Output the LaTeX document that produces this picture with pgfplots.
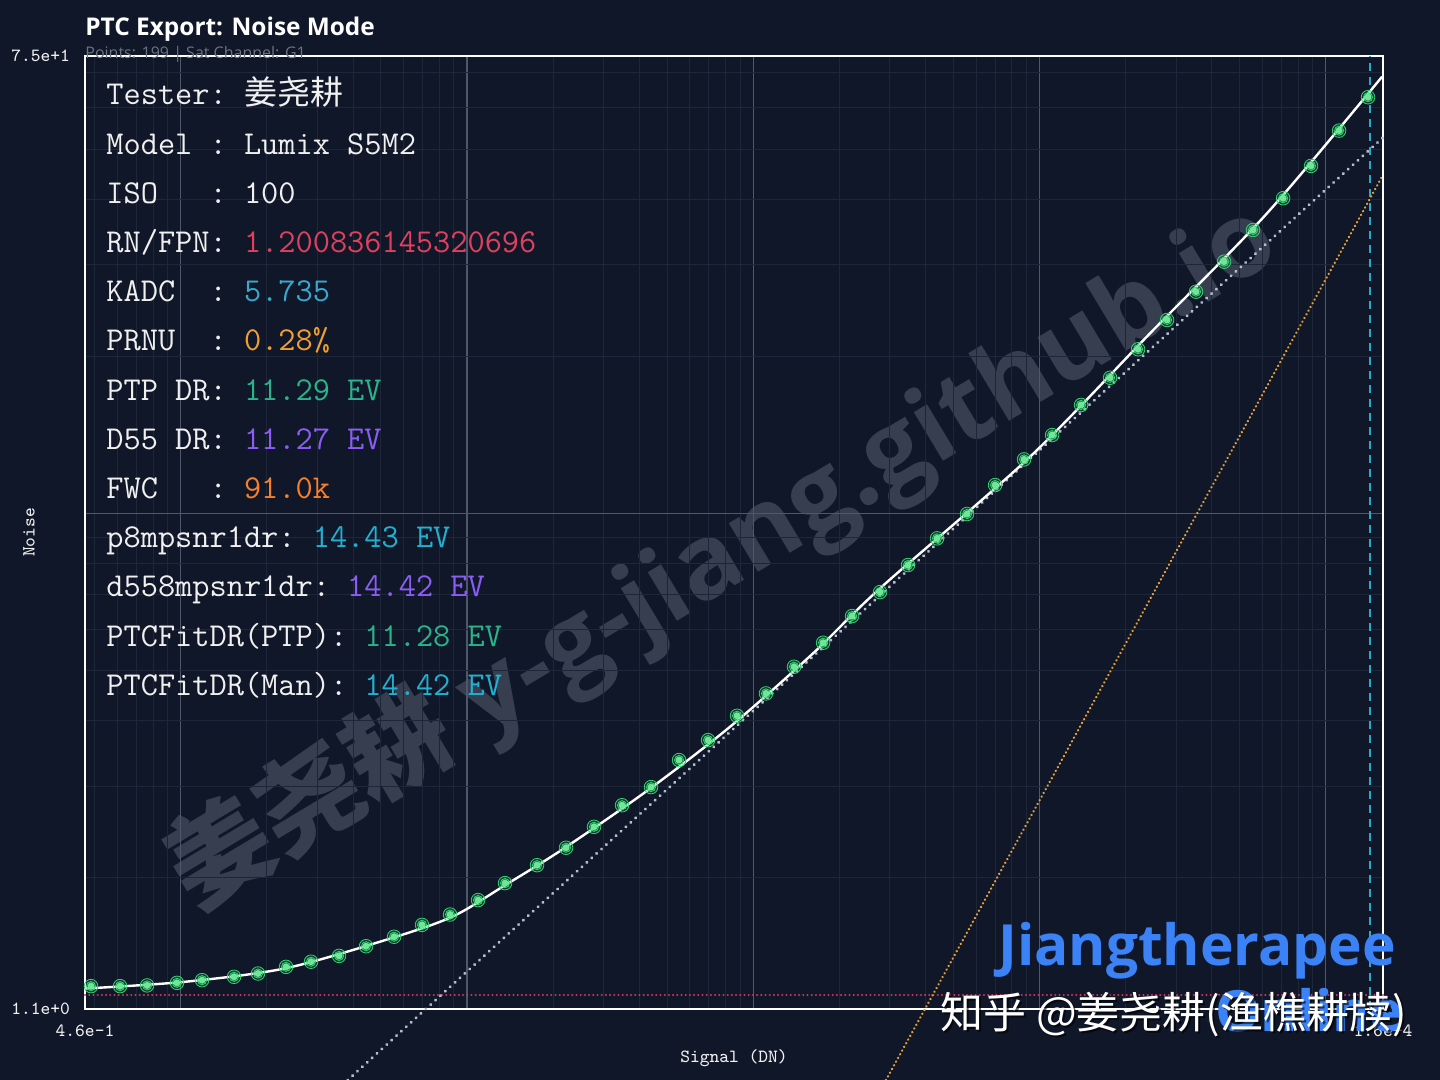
\documentclass[border=0pt]{standalone}
\usepackage{pgfplots}
\pgfplotsset{compat=1.18}
\usepackage{fontspec}
\newfontfamily\cjk{Noto Sans CJK SC}
\newfontfamily\sans{Open Sans}
\definecolor{bg}{RGB}{16,23,40}
\definecolor{wm}{RGB}{54,62,80}
\definecolor{gridmajor}{RGB}{78,88,106}
\definecolor{gridminor}{RGB}{30,39,57}
\definecolor{txt}{RGB}{240,240,240}
\definecolor{cred}{RGB}{222,64,94}
\definecolor{ccyan}{RGB}{56,168,207}
\definecolor{corange}{RGB}{240,160,48}
\definecolor{cgreen}{RGB}{43,179,138}
\definecolor{cpurple}{RGB}{139,92,246}
\definecolor{cfwc}{RGB}{246,128,40}
\definecolor{ccyan2}{RGB}{34,176,208}
\definecolor{subgray}{RGB}{107,114,128}
\definecolor{lblue}{RGB}{59,130,246}
\definecolor{mkcore}{RGB}{110,232,150}
\definecolor{mkglow}{RGB}{50,210,110}
\definecolor{dotgray}{RGB}{180,190,205}
\definecolor{dotorange}{RGB}{232,162,60}
\definecolor{redline}{RGB}{205,55,95}
\definecolor{vcyan}{RGB}{40,170,200}
\newcommand\PX[2]{({#1*0.5pt},{(1080-#2)*0.5pt})}
\newcommand\statsize{\ttfamily\fontsize{16.7}{16.7}\selectfont}
\newcommand\smallsize{\ttfamily\fontsize{9.3}{9.3}\selectfont}
\newcommand\row[4]{\node[anchor=base west, inner sep=0pt, font=\statsize, text=txt] at \PX{106}{#1} {#2\textcolor{#3}{#4}};}
\begin{document}
\begin{tikzpicture}
\useasboundingbox[fill=bg] (0,0) rectangle (720pt,540pt);
% watermark
\node[rotate=31, text=wm, font=\sans\bfseries\fontsize{52}{52}\selectfont, anchor=center] at \PX{722}{556} {{\cjk\bfseries 姜尧耕} y-g-jiang.github.io};
\begin{axis}[
  at={(42.5pt,35.5pt)}, anchor=south west,
  scale only axis, width=649pt, height=476.5pt,
  xmode=log, ymode=log,
  xmin=0.463, xmax=15850, ymin=1.12, ymax=75.4,
  clip=false,
  axis line style={draw=white, line width=1pt},
  xtick={1,10,100,1000,10000},
  xticklabels={,,,,},
  ytick={10},
  yticklabels={,},
  minor xtick={0.5,0.6,0.7,0.8,0.9,2,3,4,5,6,7,8,9,20,30,40,50,60,70,80,90,200,300,400,500,600,700,800,900,2000,3000,4000,5000,6000,7000,8000,9000},
  minor ytick={2,3,4,5,6,7,8,9,20,30,40,50,60,70},
  grid=both,
  major grid style={draw=gridmajor, line width=0.6pt},
  minor grid style={draw=gridminor, line width=0.4pt},
  major tick length=0pt, minor tick length=0pt,
  extra x ticks={0.463,15850},
  extra x tick labels={4.6e-1,1.6e+4},
  extra y ticks={1.12,75.4},
  extra y tick labels={1.1e+0,7.5e+1},
  extra tick style={grid=none, major tick length=0pt},
  xticklabel style={font=\smallsize, text=txt, anchor=center, yshift=-11pt},
  yticklabel style={font=\smallsize, text=txt, anchor=east, xshift=-4pt},
  xlabel={Signal (DN)}, ylabel={Noise},
  xlabel style={font=\smallsize, text=txt, at={(axis description cs:0.5,-0.0514)}, anchor=center},
  ylabel style={font=\smallsize, text=txt, at={(axis description cs:-0.0431,0.5)}, anchor=center},
]
% read noise line
\addplot[redline, line width=1.1pt, line cap=round, dash pattern=on 0.1pt off 2pt] coordinates {(0.463,1.19) (15850,1.19)};
% saturation marker
\addplot[vcyan, line width=0.8pt, dash pattern=on 4pt off 3pt] coordinates {(14280,1.12) (14280,75.4)};
% shot noise
\addplot[dotgray, line width=1.6pt, line cap=round, dash pattern=on 0.1pt off 3.2pt] coordinates {(3.83,0.818) (15850,52.6)};
% PRNU
\addplot[dotorange, line width=1.2pt, line cap=round, dash pattern=on 0.1pt off 2pt] coordinates {(290.8,0.818) (15850,44.58)};
% measured points: glow + core
\pgfplotstableread{
S N
0.486 1.239
0.614 1.239
0.763 1.243
0.970 1.257
1.187 1.272
1.535 1.291
1.862 1.310
2.333 1.349
2.852 1.380
3.573 1.416
4.440 1.478
5.563 1.541
6.966 1.624
8.727 1.700
10.93 1.812
13.58 1.953
17.57 2.114
22.18 2.283
27.78 2.504
34.81 2.755
43.95 2.985
55.06 3.363
69.52 3.673
87.78 4.090
110.8 4.514
138.8 5.078
175.4 5.646
221.4 6.353
277.3 7.063
347.3 7.960
438.6 8.954
558.3 9.97
699.6 11.33
883.1 12.69
1106.5 14.13
1397 16.14
1764 18.20
2210 20.64
2790 23.49
3523 26.62
4413 30.39
5572 34.96
7096 40.22
8884 46.39
11130 54.22
14050 62.84
}\pts
\addplot[mkglow, only marks, mark=*, mark size=3.4pt, mark options={draw=none, fill=mkglow, fill opacity=0.16}] table[x=S,y=N] {\pts};
\addplot[mkglow, only marks, mark=*, mark size=2.3pt, mark options={draw=none, fill=mkglow, fill opacity=0.35}] table[x=S,y=N] {\pts};
\addplot[mkcore, only marks, mark=*, mark size=1.5pt, mark options={draw=none, fill=mkcore}] table[x=S,y=N] {\pts};
% fit curve
\addplot[white, line width=1.2pt, smooth] coordinates {
(0.4634,1.226) (1.035,1.263) (2.314,1.340) (5.172,1.518) (8.867,1.683) (13.58,1.935) (21.65,2.270) (42.56,2.936) (82.98,3.896) (161.8,5.388) (277.3,7.180) (926.8,12.84) (2434,22.15) (6237,37.64) (15730,68.8)};
\end{axis}
% title
\node[anchor=base west, inner sep=0pt, text=white, font=\sans\bfseries\fontsize{12.2}{12.2}\selectfont] at \PX{85}{36} {PTC Export: Noise Mode};
\node[anchor=base west, inner sep=0pt, text=subgray, font=\sans\fontsize{8}{8}\selectfont] at \PX{85}{59} {Points: 199 | Sat Channel: G1};
% stats
\node[anchor=base west, inner sep=0pt, font=\statsize, text=txt] at \PX{106}{105} {Tester:~{\cjk\fontsize{16.5}{16.5}\selectfont 姜尧耕}};
\row{154.2}{Model~:~Lumix~S5M2}{txt}{}
\row{203.4}{ISO~~~:~100}{txt}{}
\row{252.6}{RN/FPN:~}{cred}{1.200836145320696}
\row{301.8}{KADC~~:~}{ccyan}{5.735}
\row{351}{PRNU~~:~}{corange}{0.28\%}
\row{400.2}{PTP~DR:~}{cgreen}{11.29~EV}
\row{449.4}{D55~DR:~}{cpurple}{11.27~EV}
\row{498.6}{FWC~~~:~}{cfwc}{91.0k}
\row{547.8}{p8mpsnr1dr:~}{ccyan2}{14.43~EV}
\row{597}{d558mpsnr1dr:~}{cpurple}{14.42~EV}
\row{646.2}{PTCFitDR(PTP):~}{cgreen}{11.28~EV}
\row{695.4}{PTCFitDR(Man):~}{ccyan2}{14.42~EV}
% branding
\node[anchor=base west, inner sep=0pt, text=lblue, font=\sans\bfseries\fontsize{28.4}{28.4}\selectfont] at \PX{998}{966} {Jiangtherapee};
\node[anchor=base west, inner sep=0pt, text=lblue, font=\sans\bfseries\fontsize{28.4}{28.4}\selectfont] at \PX{1215}{1032} {Online};
\node[anchor=west, inner sep=0pt, text=black, opacity=0.6, font=\cjk\fontsize{21.5}{21.5}\selectfont] at \PX{942}{1017} {知乎 @姜尧耕(渔樵耕牍)};
\node[anchor=west, inner sep=0pt, text=white, font=\cjk\fontsize{21.5}{21.5}\selectfont] at \PX{940}{1015} {知乎 @姜尧耕(渔樵耕牍)};
\end{tikzpicture}
\end{document}
